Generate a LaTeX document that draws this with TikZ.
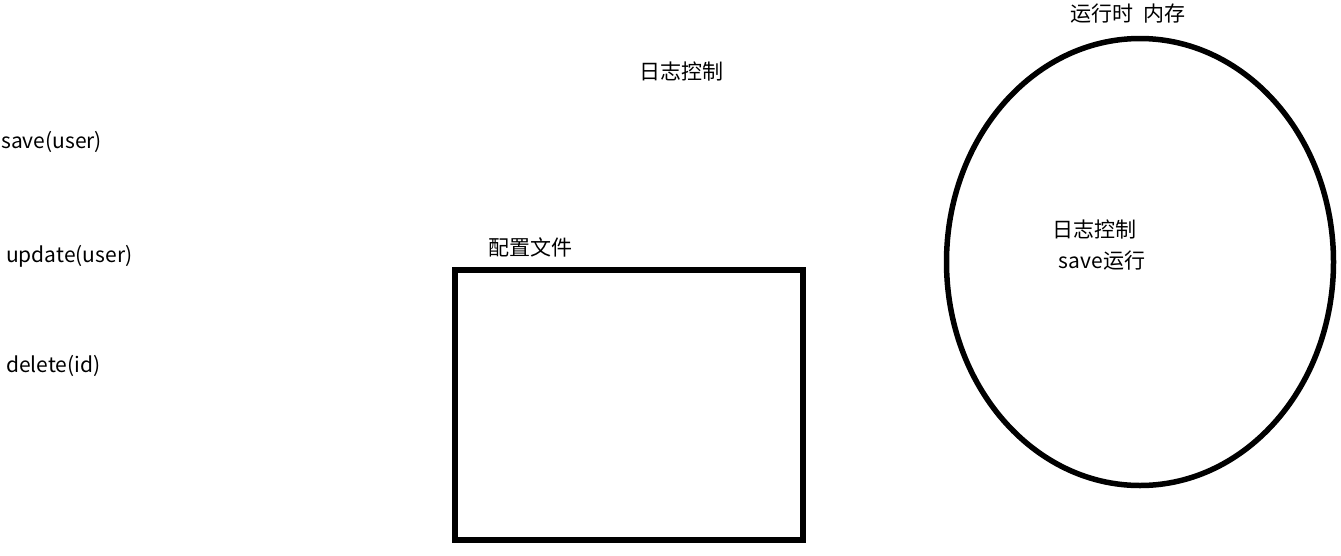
\documentclass[tikz,border=0pt]{standalone}
\usepackage{fontspec}
\usetikzlibrary{shapes.geometric}
\setmainfont{Noto Sans CJK SC}
\begin{document}
\begin{tikzpicture}[x=1pt,y=-1pt,
  lbl/.style={inner sep=0pt,font=\fontsize{21}{24}\selectfont},
  lblw/.style={lbl,anchor=west}]
\useasboundingbox[fill=white] (0,0) rectangle (1341,555);
\node[lblw] (save) at (1,142) {save(user)};
\node[lblw] (upd) at (6,256) {update(user)};
\node[lblw] (del) at (6,366) {delete(id)};
\node[lbl] (logtop) at (681,71) {日志控制};
\node[lbl] (cfg) at (530,247) {配置文件};
\node[draw=black,line width=6pt,minimum width=348pt,minimum height=270pt,inner sep=0pt] (box) at (629,405) {};
\node[draw=black,line width=5.5pt,ellipse,minimum width=387pt,minimum height=447pt,inner sep=0pt] (ell) at (1140,262) {};
\node[lbl] (rt) at (1128,14) {运行时\ \ 内存};
\node[lbl] (login) at (1094,229) {日志控制};
\node[lbl] (saverun) at (1102,261) {save运行};
\end{tikzpicture}
\end{document}
